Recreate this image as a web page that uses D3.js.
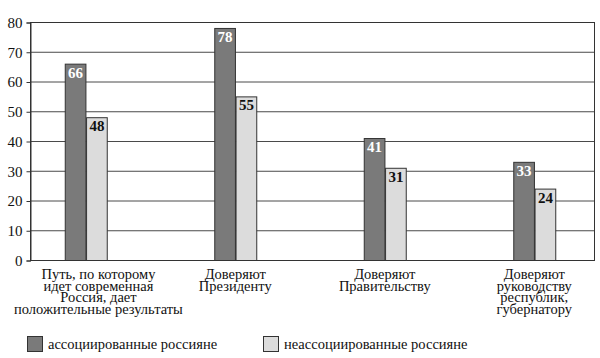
<!DOCTYPE html>
<html><head><meta charset="utf-8">
<script src="https://cdn.jsdelivr.net/npm/d3@7"></script>
</head><body style="margin:0">
<svg id="c" width="600" height="358" font-family="Liberation Serif"></svg>
<script>
const categories = [
  ["Путь, по которому","идет современная","Россия, дает","положительные результаты"],
  ["Доверяют","Президенту"],
  ["Доверяют","Правительству"],
  ["Доверяют","руководству","республик,","губернатору"]
];
const seriesNames = ["ассоциированные россияне","неассоциированные россияне"];
const associated = [66, 78, 41, 33];
const nonAssociated = [48, 55, 31, 24];
const yTicks = [0,10,20,30,40,50,60,70,80];

const FONT = "Liberation Serif";
const svg = d3.select("#c");
const L = 30, R = 594, T = 22, B = 260;
const y = d3.scaleLinear().domain([0,80]).range([B,T]);
const x0 = d3.scaleBand().domain(d3.range(categories.length)).range([11,609]).padding(0);
const x1 = d3.scaleBand().domain([0,1]).range([-21,21]).paddingInner(0.03);
const colors = ["#7a7a7a","#dcdcdc"];
const labelColors = ["#fff","#111"];

svg.append("g").selectAll("line").data(yTicks).join("line")
  .attr("x1",L).attr("x2",R).attr("y1",d=>y(d)+0.5).attr("y2",d=>y(d)+0.5)
  .attr("stroke","#4a4a4a").attr("stroke-width",1);
svg.append("rect").attr("x",L+0.5).attr("y",T+0.5).attr("width",R-L).attr("height",B-T)
  .attr("fill","none").attr("stroke","#333");
const ya = svg.append("g").attr("transform",`translate(${L+0.5},0.5)`)
  .call(d3.axisLeft(y).tickValues(yTicks).tickSize(4).tickPadding(4));
ya.attr("font-family",FONT).attr("font-size",15);
ya.select(".domain").attr("stroke","#333");
ya.selectAll("line").attr("stroke","#333");
ya.selectAll("text").attr("font-family",FONT).attr("font-size",15).attr("fill","#111");

const data = categories.map((c,i)=>({i, vals:[associated[i], nonAssociated[i]]}));
const g = svg.append("g").selectAll("g").data(data).join("g")
  .attr("transform",d=>`translate(${x0(d.i)+x0.bandwidth()/2},0)`);
g.selectAll("rect").data(d=>d.vals.map((v,s)=>({v,s}))).join("rect")
  .attr("x",d=>x1(d.s)+0.5).attr("width",x1.bandwidth())
  .attr("y",d=>y(d.v)+0.5).attr("height",d=>B-y(d.v))
  .attr("fill",d=>colors[d.s]).attr("stroke","#333").attr("stroke-width",1);
g.selectAll("text").data(d=>d.vals.map((v,s)=>({v,s}))).join("text")
  .attr("x",d=>x1(d.s)+x1.bandwidth()/2+0.5).attr("y",d=>y(d.v)+14)
  .attr("text-anchor","middle").attr("font-family",FONT).attr("font-size",15)
  .attr("font-weight","bold").attr("fill",d=>labelColors[d.s]).text(d=>d.v);

const cl = svg.append("g").selectAll("text").data(categories).join("text")
  .attr("font-family",FONT).attr("font-size",14.5).attr("fill","#111")
  .attr("text-anchor","middle");
cl.each(function(lines,i){
  const t = d3.select(this);
  lines.forEach((ln,k)=>t.append("tspan").attr("x",0).attr("y",279+k*11.6).text(ln));
  let cx = x0(i)+x0.bandwidth()/2;
  const w = d3.max(lines, ln => ln.length) * 7.2;
  if (cx - w/2 < 12) cx = 12 + w/2;
  t.attr("transform",`translate(${cx},0)`);
});

const legX = [27, 263];
const lg = svg.append("g").selectAll("g").data(seriesNames).join("g")
  .attr("transform",(d,i)=>`translate(${legX[i]},336)`);
lg.append("rect").attr("x",0.5).attr("y",0.5).attr("width",15).attr("height",15)
  .attr("fill",(d,i)=>colors[i]).attr("stroke","#333");
lg.append("text").attr("x",21).attr("y",13).attr("font-family",FONT).attr("font-size",14.5)
  .attr("fill","#111").text(d=>d);
</script>
</body></html>
